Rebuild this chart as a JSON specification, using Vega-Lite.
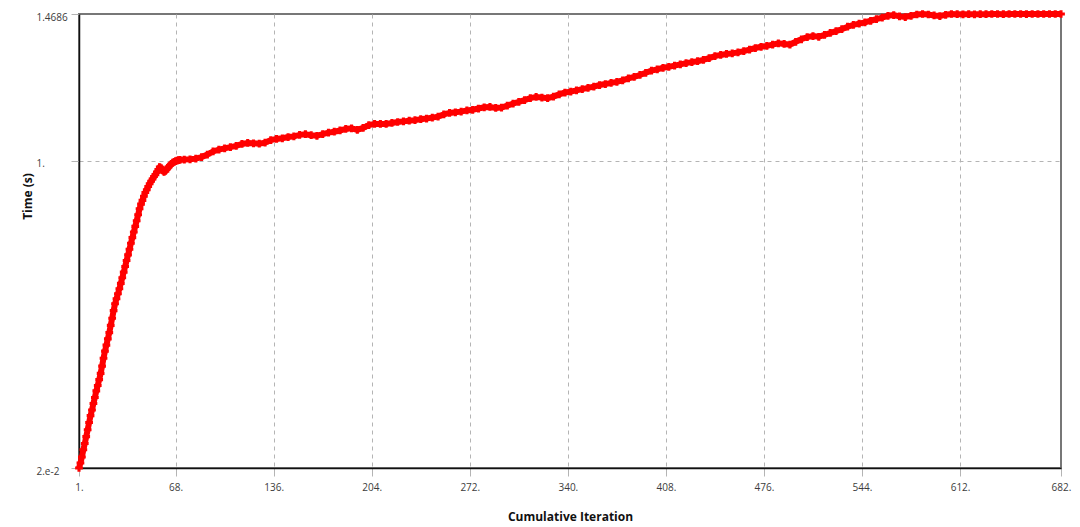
{
  "$schema": "https://vega.github.io/schema/vega-lite/v6.json",
  "description": "Time (s) against cumulative iteration, red marker line.",
  "autosize": {"type": "none"},
  "width": 982,
  "height": 454,
  "padding": {"left": 79, "top": 14, "right": 19, "bottom": 59},
  "background": "white",
  "config": {
    "view": {"stroke": "#777777", "strokeWidth": 2},
    "font": "Open Sans",
    "axis": {
      "labelFont": "Open Sans",
      "labelFontSize": 10,
      "labelColor": "#3c3c3c",
      "titleFont": "Open Sans",
      "titleFontSize": 12,
      "titleFontWeight": "bold",
      "titleColor": "#111111",
      "domainColor": "#111111",
      "domainWidth": 1.5,
      "tickColor": "#b4b4b4",
      "tickSize": 8,
      "tickWidth": 1,
      "gridColor": "#b4b4b4",
      "gridDash": [4, 4],
      "gridWidth": 1
    }
  },
  "data": {
    "values": [
      {"iter": 1, "time": 0.020}, {"iter": 2, "time": 0.036}, {"iter": 3, "time": 0.055}, {"iter": 4, "time": 0.078},
      {"iter": 5, "time": 0.098}, {"iter": 6, "time": 0.120}, {"iter": 7, "time": 0.142}, {"iter": 8, "time": 0.165},
      {"iter": 9, "time": 0.187}, {"iter": 10, "time": 0.205}, {"iter": 11, "time": 0.226}, {"iter": 12, "time": 0.245},
      {"iter": 13, "time": 0.266}, {"iter": 14, "time": 0.283}, {"iter": 15, "time": 0.302}, {"iter": 16, "time": 0.322},
      {"iter": 17, "time": 0.345}, {"iter": 18, "time": 0.370}, {"iter": 19, "time": 0.393}, {"iter": 20, "time": 0.412},
      {"iter": 21, "time": 0.432}, {"iter": 22, "time": 0.452}, {"iter": 23, "time": 0.475}, {"iter": 24, "time": 0.498},
      {"iter": 25, "time": 0.522}, {"iter": 26, "time": 0.544}, {"iter": 27, "time": 0.560}, {"iter": 28, "time": 0.576},
      {"iter": 29, "time": 0.592}, {"iter": 30, "time": 0.609}, {"iter": 31, "time": 0.627}, {"iter": 32, "time": 0.645},
      {"iter": 33, "time": 0.663}, {"iter": 34, "time": 0.682}, {"iter": 35, "time": 0.700}, {"iter": 36, "time": 0.718},
      {"iter": 37, "time": 0.737}, {"iter": 38, "time": 0.755}, {"iter": 39, "time": 0.773}, {"iter": 40, "time": 0.791},
      {"iter": 41, "time": 0.809}, {"iter": 42, "time": 0.828}, {"iter": 43, "time": 0.847}, {"iter": 44, "time": 0.862},
      {"iter": 45, "time": 0.874}, {"iter": 46, "time": 0.887}, {"iter": 47, "time": 0.899}, {"iter": 48, "time": 0.908},
      {"iter": 49, "time": 0.918}, {"iter": 50, "time": 0.927}, {"iter": 51, "time": 0.935}, {"iter": 52, "time": 0.942},
      {"iter": 53, "time": 0.950}, {"iter": 54, "time": 0.956}, {"iter": 55, "time": 0.964}, {"iter": 56, "time": 0.972},
      {"iter": 57, "time": 0.980}, {"iter": 58, "time": 0.977}, {"iter": 59, "time": 0.970}, {"iter": 60, "time": 0.965},
      {"iter": 61, "time": 0.968}, {"iter": 62, "time": 0.974}, {"iter": 63, "time": 0.980}, {"iter": 64, "time": 0.985},
      {"iter": 65, "time": 0.990}, {"iter": 66, "time": 0.994}, {"iter": 67, "time": 0.997}, {"iter": 68, "time": 0.999},
      {"iter": 69, "time": 1.001}, {"iter": 70, "time": 1.002}, {"iter": 71, "time": 1.003},
      {"iter": 74, "time": 1.004}, {"iter": 78, "time": 1.005}, {"iter": 82, "time": 1.007}, {"iter": 86, "time": 1.012},
      {"iter": 90, "time": 1.020}, {"iter": 94, "time": 1.030}, {"iter": 98, "time": 1.036}, {"iter": 102, "time": 1.040},
      {"iter": 106, "time": 1.044}, {"iter": 110, "time": 1.048}, {"iter": 114, "time": 1.054}, {"iter": 118, "time": 1.057},
      {"iter": 122, "time": 1.056}, {"iter": 126, "time": 1.055}, {"iter": 130, "time": 1.058}, {"iter": 134, "time": 1.066},
      {"iter": 138, "time": 1.070}, {"iter": 142, "time": 1.072}, {"iter": 146, "time": 1.076}, {"iter": 150, "time": 1.078},
      {"iter": 154, "time": 1.083}, {"iter": 158, "time": 1.085}, {"iter": 162, "time": 1.082}, {"iter": 166, "time": 1.080},
      {"iter": 170, "time": 1.085}, {"iter": 174, "time": 1.090}, {"iter": 178, "time": 1.093}, {"iter": 182, "time": 1.097},
      {"iter": 186, "time": 1.102}, {"iter": 190, "time": 1.104}, {"iter": 194, "time": 1.099}, {"iter": 198, "time": 1.105},
      {"iter": 202, "time": 1.114}, {"iter": 206, "time": 1.118}, {"iter": 210, "time": 1.118}, {"iter": 214, "time": 1.118},
      {"iter": 218, "time": 1.121}, {"iter": 222, "time": 1.124}, {"iter": 226, "time": 1.126}, {"iter": 230, "time": 1.128},
      {"iter": 234, "time": 1.130}, {"iter": 238, "time": 1.133}, {"iter": 242, "time": 1.135}, {"iter": 246, "time": 1.138},
      {"iter": 250, "time": 1.141}, {"iter": 254, "time": 1.148}, {"iter": 258, "time": 1.153}, {"iter": 262, "time": 1.155},
      {"iter": 266, "time": 1.157}, {"iter": 270, "time": 1.161}, {"iter": 274, "time": 1.163}, {"iter": 278, "time": 1.167},
      {"iter": 282, "time": 1.171}, {"iter": 286, "time": 1.172}, {"iter": 290, "time": 1.169}, {"iter": 294, "time": 1.170},
      {"iter": 298, "time": 1.176}, {"iter": 302, "time": 1.183}, {"iter": 306, "time": 1.188}, {"iter": 310, "time": 1.194},
      {"iter": 314, "time": 1.200}, {"iter": 318, "time": 1.204}, {"iter": 322, "time": 1.202}, {"iter": 326, "time": 1.200},
      {"iter": 330, "time": 1.205}, {"iter": 334, "time": 1.212}, {"iter": 338, "time": 1.218}, {"iter": 342, "time": 1.221},
      {"iter": 346, "time": 1.225}, {"iter": 350, "time": 1.229}, {"iter": 354, "time": 1.233}, {"iter": 358, "time": 1.237},
      {"iter": 362, "time": 1.242}, {"iter": 366, "time": 1.245}, {"iter": 370, "time": 1.249}, {"iter": 374, "time": 1.252},
      {"iter": 378, "time": 1.257}, {"iter": 382, "time": 1.263}, {"iter": 386, "time": 1.268}, {"iter": 390, "time": 1.274},
      {"iter": 394, "time": 1.281}, {"iter": 398, "time": 1.288}, {"iter": 402, "time": 1.292}, {"iter": 406, "time": 1.297},
      {"iter": 410, "time": 1.300}, {"iter": 414, "time": 1.304}, {"iter": 418, "time": 1.308}, {"iter": 422, "time": 1.312},
      {"iter": 426, "time": 1.315}, {"iter": 430, "time": 1.318}, {"iter": 434, "time": 1.322}, {"iter": 438, "time": 1.328},
      {"iter": 442, "time": 1.334}, {"iter": 446, "time": 1.338}, {"iter": 450, "time": 1.341}, {"iter": 454, "time": 1.343},
      {"iter": 458, "time": 1.346}, {"iter": 462, "time": 1.350}, {"iter": 466, "time": 1.355}, {"iter": 470, "time": 1.360},
      {"iter": 474, "time": 1.364}, {"iter": 478, "time": 1.367}, {"iter": 482, "time": 1.371}, {"iter": 486, "time": 1.375},
      {"iter": 490, "time": 1.373}, {"iter": 494, "time": 1.371}, {"iter": 498, "time": 1.380}, {"iter": 502, "time": 1.388},
      {"iter": 506, "time": 1.395}, {"iter": 510, "time": 1.398}, {"iter": 514, "time": 1.396}, {"iter": 518, "time": 1.402},
      {"iter": 522, "time": 1.408}, {"iter": 526, "time": 1.414}, {"iter": 530, "time": 1.420}, {"iter": 534, "time": 1.428},
      {"iter": 538, "time": 1.434}, {"iter": 542, "time": 1.438}, {"iter": 546, "time": 1.442}, {"iter": 550, "time": 1.447},
      {"iter": 554, "time": 1.452}, {"iter": 558, "time": 1.457}, {"iter": 562, "time": 1.463}, {"iter": 566, "time": 1.465},
      {"iter": 570, "time": 1.461}, {"iter": 574, "time": 1.459}, {"iter": 578, "time": 1.463}, {"iter": 582, "time": 1.467},
      {"iter": 586, "time": 1.4686}, {"iter": 590, "time": 1.467}, {"iter": 594, "time": 1.464}, {"iter": 598, "time": 1.462},
      {"iter": 602, "time": 1.466}, {"iter": 606, "time": 1.4686}, {"iter": 610, "time": 1.468}, {"iter": 614, "time": 1.4676},
      {"iter": 618, "time": 1.468}, {"iter": 622, "time": 1.4676}, {"iter": 626, "time": 1.468}, {"iter": 630, "time": 1.468},
      {"iter": 634, "time": 1.4686}, {"iter": 638, "time": 1.4686}, {"iter": 642, "time": 1.4682}, {"iter": 646, "time": 1.4686},
      {"iter": 650, "time": 1.4686}, {"iter": 654, "time": 1.4686}, {"iter": 658, "time": 1.4684}, {"iter": 662, "time": 1.4686},
      {"iter": 666, "time": 1.4686}, {"iter": 670, "time": 1.4686}, {"iter": 674, "time": 1.4686}, {"iter": 678, "time": 1.4686},
      {"iter": 682, "time": 1.4686}
    ]
  },
  "encoding": {
    "x": {
      "field": "iter",
      "type": "quantitative",
      "scale": {"domain": [1, 682], "nice": false, "zero": false},
      "axis": {
        "title": "Cumulative Iteration",
        "values": [1, 68, 136, 204, 272, 340, 408, 476, 544, 612, 682],
        "labelExpr": "datum.value + '.'",
        "labelPadding": 6,
        "labelFlush": false,
        "labelOverlap": false,
        "titleY": 48,
        "titleBaseline": "middle",
        "gridOpacity": {"condition": {"test": "datum.value > 1 && datum.value < 682", "value": 1}, "value": 0}
      }
    },
    "y": {
      "field": "time",
      "type": "quantitative",
      "scale": {"domain": [0.02, 1.4686], "nice": false, "zero": false},
      "axis": {
        "title": "Time (s)",
        "values": [0.02, 1, 1.4686],
        "labelExpr": "datum.value == 1 ? '1.' : (datum.value < 0.5 ? '2.e-2' : '1.4686')",
        "labelAlign": "left",
        "labelBaseline": "middle",
        "labelPadding": 35,
        "labelOffset": 3,
        "labelFlush": false,
        "labelOverlap": false,
        "titleX": -52,
        "titleY": 182,
        "titleAlign": "center",
        "titleBaseline": "middle",
        "gridOpacity": {"condition": {"test": "datum.value == 1", "value": 1}, "value": 0}
      }
    }
  },
  "layer": [
    {
      "mark": {"type": "line", "color": "#ff0000", "strokeWidth": 6, "clip": false}
    },
    {
      "mark": {"type": "point", "shape": "cross", "filled": true, "color": "#ff0000", "size": 60, "opacity": 1, "clip": false}
    }
  ]
}
